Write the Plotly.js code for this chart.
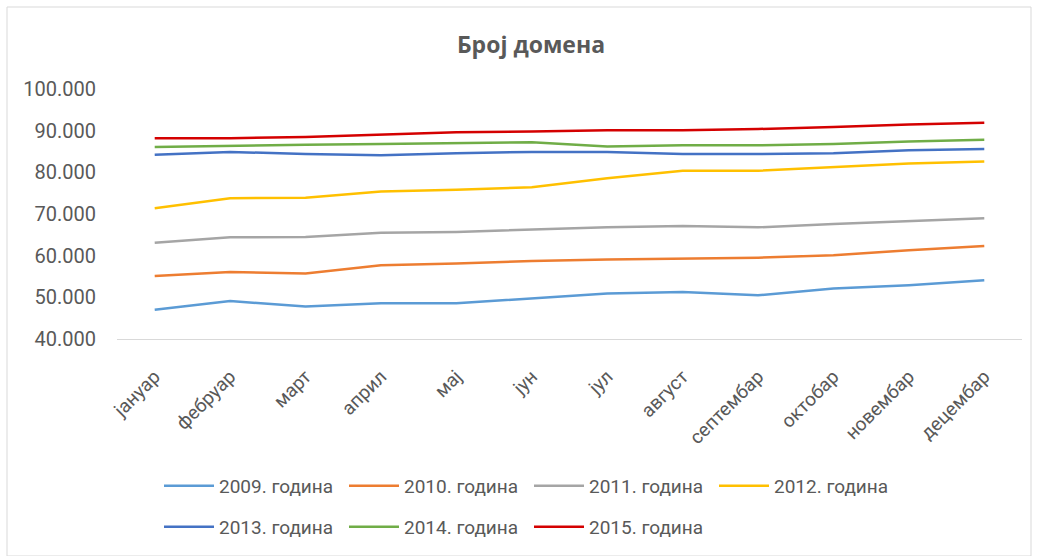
<!DOCTYPE html>
<html>
<head>
<meta charset="utf-8">
<script src="https://cdn.plot.ly/plotly-3.0.1.min.js"></script>
<style>html,body{margin:0;padding:0;background:#fff;}#chart{width:1039px;height:556px;}</style>
</head>
<body>
<div id="chart"></div>
<script>
const months = ["јануар","фебруар","март","април","мај","јун","јул","август","септембар","октобар","новембар","децембар"];
const seriesNames = ["2009. година","2010. година","2011. година","2012. година","2013. година","2014. година","2015. година"];
const y2009 = [47000,49100,47800,48600,48600,49700,50900,51300,50500,52100,52900,54100];
const y2010 = [55100,56100,55700,57700,58100,58700,59100,59300,59500,60100,61300,62300];
const y2011 = [63100,64400,64500,65500,65700,66300,66800,67100,66800,67600,68300,69000];
const y2012 = [71400,73800,73900,75400,75800,76400,78600,80400,80400,81300,82100,82600];
const y2013 = [84200,84900,84400,84100,84600,84900,84900,84400,84400,84600,85300,85600];
const y2014 = [86100,86400,86600,86800,87000,87200,86200,86500,86500,86800,87400,87800];
const y2015 = [88200,88200,88500,89000,89600,89800,90100,90100,90400,90900,91500,91900];
const colors = ["#5B9BD5","#ED7D31","#A5A5A5","#FFC000","#4472C4","#70AD47","#D40000"];
const allY = [y2009,y2010,y2011,y2012,y2013,y2014,y2015];

const traces = allY.map((ys,i)=>({
  type:'scatter', mode:'lines', x: months, y: ys, name: seriesNames[i],
  legend: i < 4 ? 'legend' : 'legend2',
  line:{color: colors[i], width: 2.5}
}));

const W=1039,H=556, L=117, R=17, T=89, B=217;
const pw=W-L-R, ph=H-T-B;
const px = v => (v-L)/pw, py = v => 1-(v-T)/ph;

const legendCommon = {orientation:'h', xref:'container', yref:'container', x:159/W, xanchor:'left', yanchor:'middle',
  entrywidth:120, entrywidthmode:'pixels', itemwidth:50, font:{size:19, color:'#595959'}, bgcolor:'rgba(0,0,0,0)'};

const layout = {
  width: W, height: H,
  margin:{l:L, r:R, t:T, b:B},
  paper_bgcolor:'#fff', plot_bgcolor:'#fff',
  separators: ',.',
  font:{family:'Roboto, "Open Sans", sans-serif', color:'#595959', size:15},
  title:{text:'<b>Број домена</b>', x:531/W, xanchor:'center', xref:'container', y:1-45/H, yanchor:'middle', yref:'container',
         font:{family:'"Open Sans", Roboto, sans-serif', size:23, color:'#595959'}},
  xaxis:{type:'category', tickangle:-45, showgrid:false, zeroline:false, showline:true, linecolor:'#D9D9D9', linewidth:1,
         ticks:'outside', ticklen:18, tickcolor:'rgba(0,0,0,0)', tickfont:{size:19, color:'#595959'}, range:[-0.5, 11.5], automargin:false},
  yaxis:{range:[40000,100000], dtick:10000, tickformat:',d', showgrid:false, zeroline:false, showline:false,
         ticks:'outside', ticklen:16, tickcolor:'rgba(0,0,0,0)', tickfont:{size:20, color:'#595959'}, automargin:false},
  showlegend:true,
  legend: Object.assign({}, legendCommon, {y:1-486/H}),
  legend2: Object.assign({}, legendCommon, {y:1-527/H}),
  shapes:[{type:'rect', xref:'paper', yref:'paper', x0:px(7), x1:px(1031), y0:py(7), y1:py(556), line:{color:'#D9D9D9', width:1}, fillcolor:'rgba(0,0,0,0)', layer:'below'}]
};
Plotly.newPlot('chart', traces, layout, {displayModeBar:false, staticPlot:true});
</script>
</body>
</html>
